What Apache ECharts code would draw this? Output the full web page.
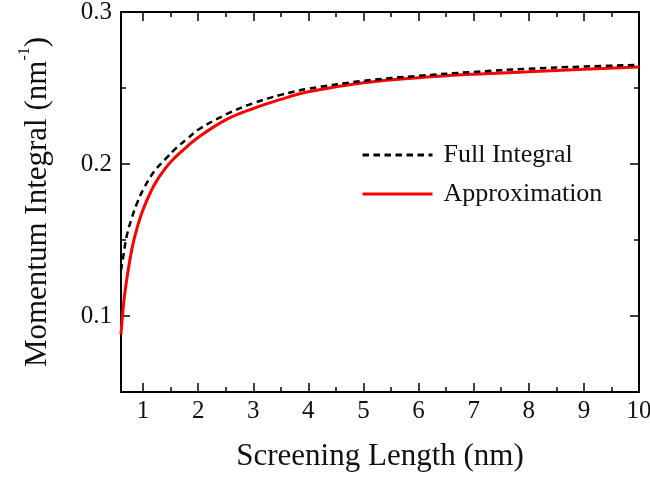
<!DOCTYPE html>
<html>
<head>
<meta charset="utf-8">
<script src="https://cdn.jsdelivr.net/npm/echarts@6.0.0/dist/echarts.min.js"></script>
<title>Momentum Integral</title>
<style>
  html, body { margin: 0; padding: 0; background: #fff; }
  #main { width: 650px; height: 478px; }
</style>
</head>
<body>
<div id="main"></div>
<script type="text/javascript">
// screening length (nm)
var lengths = [0.6, 0.65, 0.7, 0.8, 0.9, 1.0, 1.2, 1.4, 1.6, 1.8, 2.0, 2.5, 3.0, 3.5, 4.0, 5.0, 6.0, 7.0, 8.0, 9.0, 10];
// momentum integral values (nm^-1)
var fullIntegral = [0.130, 0.141, 0.152, 0.165, 0.175, 0.183, 0.195, 0.203, 0.2105, 0.2165, 0.2225, 0.2325, 0.2400, 0.2455, 0.2495, 0.2547, 0.2580, 0.2606, 0.2627, 0.2641, 0.2652];
var approximation = [0.088, 0.109, 0.123, 0.1445, 0.159, 0.170, 0.186, 0.197, 0.205, 0.2115, 0.2175, 0.229, 0.2365, 0.2425, 0.2475, 0.2534, 0.2568, 0.2591, 0.2607, 0.2624, 0.2638];

var xMajor = [1, 2, 3, 4, 5, 6, 7, 8, 9, 10];
var xMinor = [1.5, 2.5, 3.5, 4.5, 5.5, 6.5, 7.5, 8.5, 9.5];
var yMajor = [0.1, 0.2, 0.3];
var yMinor = [0.15, 0.25];

var font = 'Liberation Serif';

function pairs(xs, ys) {
    return xs.map(function (x, i) { return [x, ys[i]]; });
}

// one axis = frame side; extra axes only carry the short minor ticks
function xAx(pos, ticks, len, showLine, showLabel) {
    return {
        type: 'value', position: pos, min: 0.6, max: 10,
        axisLine: { show: showLine, onZero: false, lineStyle: { color: '#000', width: 2 } },
        axisTick: { show: true, inside: true, length: len, customValues: ticks, lineStyle: { color: '#000', width: 1.5 } },
        axisLabel: { show: showLabel, customValues: xMajor, margin: 7, color: '#111', fontFamily: font, fontSize: 25 },
        splitLine: { show: false }
    };
}
function yAx(pos, ticks, len, showLine, showLabel) {
    return {
        type: 'value', position: pos, min: 0.05, max: 0.3,
        axisLine: { show: showLine, onZero: false, lineStyle: { color: '#000', width: 2 } },
        axisTick: { show: true, inside: true, length: len, customValues: ticks, lineStyle: { color: '#000', width: 1.5 } },
        axisLabel: { show: showLabel, customValues: yMajor, margin: 9, color: '#111', fontFamily: font, fontSize: 25 },
        splitLine: { show: false }
    };
}

var xMain = xAx('bottom', xMajor, 9, true, true);
xMain.name = 'Screening Length (nm)';
xMain.nameLocation = 'middle';
xMain.nameGap = 49;
xMain.nameTextStyle = { color: '#111', fontFamily: font, fontSize: 31 };

var yMain = yAx('left', yMajor, 9, true, true);
yMain.name = '{t|Momentum Integral (nm}{s|-1}{t|)}';
yMain.nameLocation = 'middle';
yMain.nameGap = 68;
yMain.nameTextStyle = {
    color: '#111', fontFamily: font, fontSize: 31,
    rich: {
        t: { fontFamily: font, fontSize: 31, color: '#111', verticalAlign: 'bottom', lineHeight: 36 },
        s: { fontFamily: font, fontSize: 16, color: '#111', verticalAlign: 'top', lineHeight: 36 }
    }
};

var myChart = echarts.init(document.getElementById('main'));
var option = {
    animation: false,
    backgroundColor: '#fff',
    grid: { left: 121, right: 11, top: 12, bottom: 86, containLabel: false, outerBoundsMode: 'none' },
    legend: {
        orient: 'vertical', left: 356, top: 137,
        itemWidth: 70, itemHeight: 26, itemGap: 13,
        itemStyle: { opacity: 0 },
        lineStyle: { width: 3 },
        textStyle: { color: '#111', fontFamily: font, fontSize: 26, lineHeight: 26, padding: [0, 0, 0, 6] },
        data: ['Full Integral', 'Approximation']
    },
    xAxis: [
        xMain,
        xAx('bottom', xMinor, 5, false, false),
        xAx('top', xMajor, 9, true, false),
        xAx('top', xMinor, 5, false, false)
    ],
    yAxis: [
        yMain,
        yAx('left', yMinor, 5, false, false),
        yAx('right', yMajor, 9, true, false),
        yAx('right', yMinor, 5, false, false)
    ],
    series: [
        {
            name: 'Approximation', type: 'line',
            data: pairs(lengths, approximation),
            smooth: 0.4,
            showSymbol: false, symbol: 'none',
            lineStyle: { color: '#ff0000', width: 3 },
            itemStyle: { color: '#ff0000' }
        },
        {
            name: 'Full Integral', type: 'line',
            data: pairs(lengths, fullIntegral),
            smooth: 0.4,
            showSymbol: false, symbol: 'none',
            lineStyle: { color: '#000', width: 2.5, type: [6.5, 4.5] },
            itemStyle: { color: '#000' }
        }
    ]
};
myChart.setOption(option);
</script>
</body>
</html>
